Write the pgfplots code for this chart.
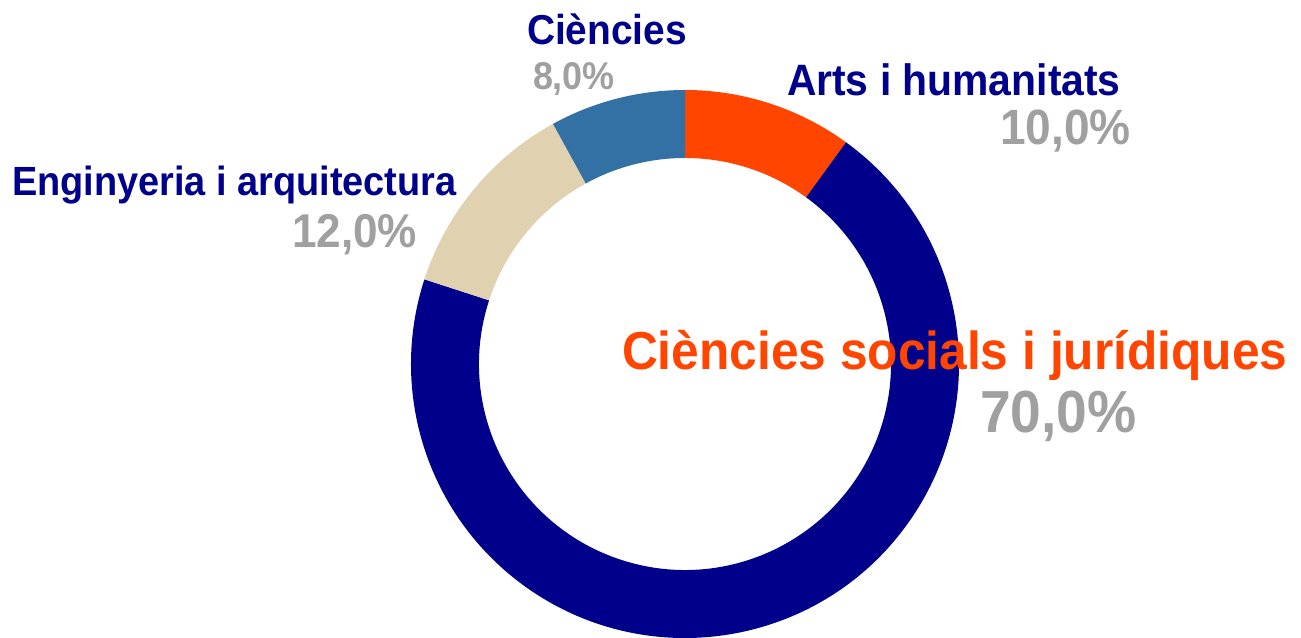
\documentclass[border=0pt]{standalone}
\usepackage{fontspec}
\setmainfont{Liberation Sans}[FakeStretch=0.93]
\usepackage{pgfplots}
\pgfplotsset{compat=1.18}

\definecolor{navy}{RGB}{0,0,139}
\definecolor{orangered}{RGB}{255,69,0}
\definecolor{steel}{RGB}{51,112,164}
\definecolor{beige}{RGB}{224,209,176}
\definecolor{pctgray}{RGB}{160,160,160}

% one ring segment: #1 = cumulative share before it (%), #2 = share (%), #3 = colour
% overlay: arc control points would otherwise grow the bounding box
\newcommand{\seg}[3]{%
  \fill[#3, overlay] (axis cs:685,274) ++({90-3.6*#1}:2.74cm)
    arc[start angle={90-3.6*#1}, end angle={90-3.6*(#1+#2)}, radius=2.74cm]
    -- ++({90-3.6*(#1+#2)}:-0.68cm)
    arc[start angle={90-3.6*(#1+#2)}, end angle={90-3.6*#1}, radius=2.06cm]
    -- cycle;}

\tikzset{lbl/.style={anchor=base west, inner sep=0pt, outer sep=0pt}}

\begin{document}
\begin{tikzpicture}
\begin{axis}[
    width=13.01cm, height=6.38cm,
    scale only axis,
    xmin=0, xmax=1301, ymin=0, ymax=638,
    hide axis,
    clip=false,
]
\path (axis cs:0,0) rectangle (axis cs:1301,638);

\seg{0}{10}{orangered}  % Arts i humanitats
\seg{10}{70}{navy}      % Ciencies socials i juridiques
\seg{80}{12}{beige}     % Enginyeria i arquitectura
\seg{92}{8}{steel}      % Ciencies

\node[lbl, text=navy, font=\bfseries\fontsize{11.9}{14}\selectfont] at (axis cs:527,593) {Ciències};
\node[lbl, text=pctgray, font=\bfseries\fontsize{11}{13}\selectfont] at (axis cs:533,548) {8,0\%};

\node[lbl, text=navy, font=\bfseries\fontsize{12.5}{15}\selectfont] at (axis cs:787,542) {Arts i humanitats};
\node[lbl, text=pctgray, font=\bfseries\fontsize{14.1}{17}\selectfont] at (axis cs:1000,493) {10,0\%};

\node[lbl, text=navy, font=\bfseries\fontsize{11.6}{14}\selectfont] at (axis cs:12,442) {Enginyeria i arquitectura};
\node[lbl, text=pctgray, font=\bfseries\fontsize{13.5}{16}\selectfont] at (axis cs:292,390) {12,0\%};

\node[lbl, text=orangered, font=\bfseries\fontsize{15.2}{18}\selectfont] at (axis cs:622,268) {Ciències socials i jurídiques};
\node[lbl, text=pctgray, font=\bfseries\fontsize{16.9}{20}\selectfont] at (axis cs:980,205) {70,0\%};
\end{axis}
\end{tikzpicture}
\end{document}
